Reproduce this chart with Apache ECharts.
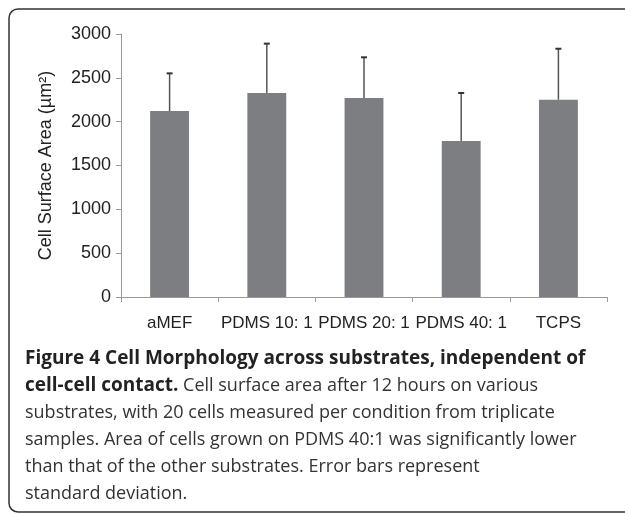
<!DOCTYPE html>
<html>
<head>
<meta charset="utf-8">
<script src="https://cdn.jsdelivr.net/npm/echarts@6/dist/echarts.min.js"></script>
<style>
html,body{margin:0;padding:0;background:#fff;}
#chart{width:625px;height:514px;}
</style>
</head>
<body>
<div id="chart"></div>
<script>
const categories = ['aMEF', 'PDMS 10: 1', 'PDMS 20: 1', 'PDMS 40: 1', 'TCPS'];
const means = [2121, 2327, 2270, 1779, 2251];
const sds = [430, 563, 464, 548, 581];
const yTicks = [0, 500, 1000, 1500, 2000, 2500, 3000];

const chart = echarts.init(document.getElementById('chart'));
const errData = categories.map((c, i) => [i, means[i], means[i] + sds[i]]);

const captionText =
  '{b|Figure 4 Cell Morphology across substrates, independent of}\n' +
  '{b|cell-cell contact.}{n| Cell surface area after 12 hours on various}\n' +
  '{n|substrates, with 20 cells measured per condition from triplicate}\n' +
  '{n|samples. Area of cells grown on PDMS 40:1 was significantly lower}\n' +
  '{n|than that of the other substrates. Error bars represent}\n' +
  '{n|standard deviation.}';

chart.setOption({
  animation: false,
  grid: { left: 121, right: 18, top: 34, bottom: 217 },
  xAxis: {
    type: 'category',
    data: categories,
    axisLine: { lineStyle: { color: '#9a9a9a', width: 1 } },
    axisTick: { show: true, length: 5, lineStyle: { color: '#9a9a9a' } },
    axisLabel: { color: '#222', fontFamily: 'Liberation Sans', fontSize: 17, margin: 18, interval: 0 }
  },
  yAxis: {
    type: 'value',
    min: yTicks[0],
    max: yTicks[yTicks.length - 1],
    interval: 500,
    name: 'Cell Surface Area (µm²)',
    nameLocation: 'middle',
    nameGap: 66,
    nameTextStyle: { color: '#222', fontFamily: 'Liberation Sans', fontSize: 18 },
    axisLine: { show: true, lineStyle: { color: '#9a9a9a', width: 1 } },
    axisTick: { show: true, length: 5, lineStyle: { color: '#9a9a9a' } },
    splitLine: { show: false },
    axisLabel: { color: '#222', fontFamily: 'Liberation Sans', fontSize: 18, margin: 10, formatter: v => String(v) }
  },
  series: [
    {
      type: 'bar',
      data: means,
      barWidth: '40%',
      itemStyle: { color: '#7d7e82' }
    },
    {
      type: 'custom',
      data: errData,
      z: 5,
      renderItem: function (params, api) {
        const x = api.value(0);
        const lo = api.coord([x, api.value(1)]);
        const hi = api.coord([x, api.value(2)]);
        const cap = 3;
        const style = { stroke: '#555', lineWidth: 1.5 };
        return {
          type: 'group',
          children: [
            { type: 'line', shape: { x1: lo[0], y1: lo[1], x2: hi[0], y2: hi[1] }, style: style },
            { type: 'line', shape: { x1: hi[0] - cap, y1: hi[1], x2: hi[0] + cap, y2: hi[1] }, style: { stroke: '#333', lineWidth: 2 } }
          ]
        };
      }
    }
  ],
  graphic: [
    {
      type: 'rect',
      shape: { x: 9, y: 9, width: 640, height: 503, r: 9 },
      style: { fill: 'none', stroke: '#333', lineWidth: 1.5 },
      silent: true
    },
    {
      type: 'text',
      left: 25,
      top: 349,
      style: {
        text: captionText,
        rich: {
          b: { fontFamily: 'Open Sans', fontWeight: 'bold', fontSize: 19, lineHeight: 27, fill: '#222' },
          n: { fontFamily: 'Open Sans', fontSize: 18, lineHeight: 27, fill: '#333' }
        }
      }
    }
  ]
});
</script>
</body>
</html>
